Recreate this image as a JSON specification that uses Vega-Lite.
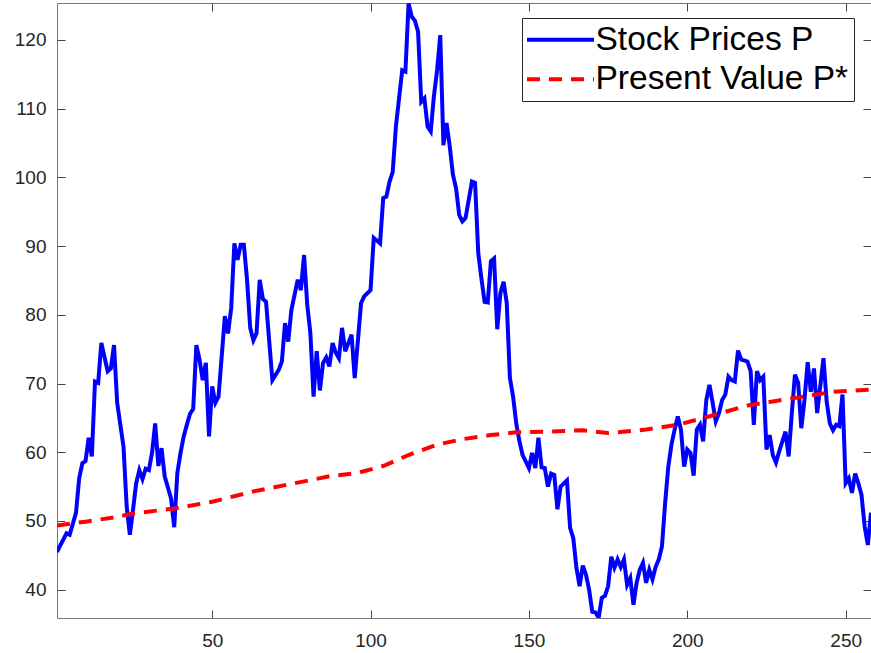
{
  "$schema": "https://vega.github.io/schema/vega-lite/v6.json",
  "width": 814,
  "height": 615,
  "autosize": {"type": "none"},
  "padding": {"left": 57, "top": 3, "right": 0, "bottom": 35},
  "background": "white",
  "datasets": {
    "stock": [
      {"t":1,"v":45.5},{"t":4,"v":48.2},{"t":5,"v":48.0},{"t":7,"v":51.2},{"t":8,"v":56.2},{"t":9,"v":58.4},{"t":10,"v":58.7},{"t":11,"v":62.1},{"t":12,"v":59.4},{"t":13,"v":70.3},{"t":14,"v":70.1},{"t":15,"v":75.9},{"t":17,"v":71.8},{"t":18,"v":72.2},{"t":19,"v":75.6},{"t":20,"v":67.2},{"t":22,"v":60.8},{"t":23,"v":52.1},{"t":24,"v":48.0},{"t":25,"v":51.6},{"t":26,"v":55.5},{"t":27,"v":57.4},{"t":28,"v":56.1},{"t":29,"v":57.6},{"t":30,"v":57.4},{"t":31,"v":59.9},{"t":32,"v":64.2},{"t":33,"v":58.0},{"t":34,"v":60.6},{"t":35,"v":56.5},{"t":37,"v":53.3},{"t":38,"v":49.1},{"t":39,"v":57.0},{"t":40,"v":59.9},{"t":41,"v":62.3},{"t":42,"v":64.0},{"t":43,"v":65.6},{"t":44,"v":66.3},{"t":45,"v":75.6},{"t":46,"v":73.5},{"t":47,"v":70.5},{"t":48,"v":73.0},{"t":49,"v":62.3},{"t":50,"v":69.6},{"t":51,"v":67.2},{"t":52,"v":68.1},{"t":54,"v":79.8},{"t":55,"v":77.3},{"t":56,"v":81.0},{"t":57,"v":90.4},{"t":58,"v":88.0},{"t":59,"v":90.2},{"t":60,"v":90.2},{"t":61,"v":85.1},{"t":62,"v":78.1},{"t":63,"v":76.3},{"t":64,"v":77.3},{"t":65,"v":85.1},{"t":66,"v":82.3},{"t":67,"v":81.9},{"t":69,"v":70.5},{"t":71,"v":72.0},{"t":72,"v":73.2},{"t":73,"v":78.8},{"t":74,"v":76.1},{"t":75,"v":80.7},{"t":77,"v":85.1},{"t":78,"v":83.6},{"t":79,"v":88.7},{"t":80,"v":81.5},{"t":81,"v":77.3},{"t":82,"v":68.1},{"t":83,"v":74.7},{"t":84,"v":69.0},{"t":85,"v":73.0},{"t":86,"v":73.8},{"t":87,"v":72.5},{"t":88,"v":75.9},{"t":89,"v":74.5},{"t":90,"v":73.7},{"t":91,"v":78.1},{"t":92,"v":74.7},{"t":94,"v":77.1},{"t":95,"v":70.8},{"t":97,"v":81.7},{"t":98,"v":82.7},{"t":100,"v":83.6},{"t":101,"v":91.2},{"t":103,"v":90.4},{"t":104,"v":97.0},{"t":105,"v":97.2},{"t":106,"v":99.4},{"t":107,"v":100.8},{"t":108,"v":107.4},{"t":110,"v":115.6},{"t":111,"v":115.4},{"t":112,"v":125.3},{"t":113,"v":123.4},{"t":114,"v":122.8},{"t":115,"v":121.2},{"t":116,"v":111.0},{"t":117,"v":111.5},{"t":118,"v":107.4},{"t":119,"v":106.7},{"t":120,"v":111.8},{"t":121,"v":115.6},{"t":122,"v":120.7},{"t":123,"v":104.7},{"t":124,"v":107.9},{"t":125,"v":104.5},{"t":126,"v":100.4},{"t":127,"v":98.4},{"t":128,"v":94.5},{"t":129,"v":93.6},{"t":130,"v":94.1},{"t":132,"v":99.4},{"t":133,"v":99.2},{"t":134,"v":89.0},{"t":135,"v":85.3},{"t":136,"v":81.9},{"t":137,"v":81.8},{"t":138,"v":87.8},{"t":139,"v":88.2},{"t":140,"v":77.9},{"t":141,"v":83.2},{"t":142,"v":84.8},{"t":143,"v":81.7},{"t":144,"v":70.8},{"t":145,"v":68.1},{"t":146,"v":64.2},{"t":147,"v":61.6},{"t":148,"v":59.6},{"t":150,"v":57.7},{"t":151,"v":59.9},{"t":152,"v":57.7},{"t":153,"v":62.1},{"t":154,"v":57.8},{"t":155,"v":57.7},{"t":156,"v":55.0},{"t":157,"v":56.9},{"t":158,"v":56.7},{"t":159,"v":51.7},{"t":160,"v":55.0},{"t":162,"v":55.9},{"t":163,"v":49.0},{"t":164,"v":47.5},{"t":165,"v":43.2},{"t":166,"v":40.5},{"t":167,"v":43.5},{"t":168,"v":42.2},{"t":169,"v":40.0},{"t":170,"v":36.8},{"t":171,"v":36.7},{"t":172,"v":35.9},{"t":173,"v":38.8},{"t":174,"v":39.1},{"t":175,"v":40.5},{"t":176,"v":44.8},{"t":177,"v":43.2},{"t":178,"v":44.4},{"t":179,"v":43.3},{"t":180,"v":44.4},{"t":181,"v":40.7},{"t":182,"v":41.7},{"t":183,"v":37.8},{"t":184,"v":41.0},{"t":185,"v":42.9},{"t":186,"v":43.9},{"t":187,"v":41.0},{"t":188,"v":42.9},{"t":189,"v":41.5},{"t":190,"v":43.3},{"t":191,"v":44.4},{"t":192,"v":46.3},{"t":193,"v":52.6},{"t":194,"v":57.9},{"t":195,"v":61.1},{"t":196,"v":63.3},{"t":197,"v":65.2},{"t":198,"v":63.3},{"t":199,"v":57.9},{"t":200,"v":60.4},{"t":201,"v":59.9},{"t":202,"v":56.6},{"t":203,"v":63.3},{"t":204,"v":64.0},{"t":205,"v":61.6},{"t":206,"v":67.6},{"t":207,"v":69.8},{"t":208,"v":67.2},{"t":209,"v":64.5},{"t":210,"v":65.7},{"t":211,"v":67.6},{"t":212,"v":68.4},{"t":213,"v":71.0},{"t":214,"v":70.5},{"t":215,"v":70.3},{"t":216,"v":74.8},{"t":217,"v":73.5},{"t":219,"v":73.2},{"t":220,"v":71.8},{"t":221,"v":64.0},{"t":222,"v":71.8},{"t":223,"v":70.5},{"t":224,"v":71.0},{"t":225,"v":60.4},{"t":226,"v":62.5},{"t":227,"v":59.6},{"t":228,"v":58.5},{"t":229,"v":60.1},{"t":231,"v":63.0},{"t":232,"v":59.4},{"t":233,"v":65.7},{"t":234,"v":71.3},{"t":235,"v":70.1},{"t":236,"v":63.5},{"t":237,"v":67.6},{"t":238,"v":73.1},{"t":239,"v":68.8},{"t":240,"v":72.2},{"t":241,"v":65.7},{"t":243,"v":73.7},{"t":244,"v":67.4},{"t":245,"v":64.2},{"t":246,"v":63.2},{"t":247,"v":64.0},{"t":248,"v":63.8},{"t":249,"v":68.4},{"t":250,"v":55.5},{"t":251,"v":56.2},{"t":252,"v":54.1},{"t":253,"v":56.9},{"t":254,"v":55.5},{"t":255,"v":53.8},{"t":256,"v":49.2},{"t":257,"v":46.5},{"t":258,"v":51.2}
    ],
    "pv": [
      {"t":1,"v":49.35},{"t":10,"v":49.9},{"t":20,"v":50.6},{"t":25,"v":51.1},{"t":38,"v":51.8},{"t":50,"v":52.8},{"t":63,"v":54.3},{"t":75,"v":55.4},{"t":87,"v":56.5},{"t":96,"v":57.0},{"t":104,"v":58.0},{"t":112,"v":59.6},{"t":121,"v":61.1},{"t":129,"v":61.9},{"t":138,"v":62.5},{"t":146,"v":62.9},{"t":155,"v":63.0},{"t":167,"v":63.2},{"t":175,"v":62.8},{"t":187,"v":63.3},{"t":197,"v":64.0},{"t":206,"v":65.1},{"t":219,"v":66.8},{"t":227,"v":67.4},{"t":238,"v":68.2},{"t":246,"v":68.8},{"t":258,"v":69.1}
    ]
  },
  "layer": [
    {
      "data": {"name": "stock"},
      "mark": {"type": "line", "strokeWidth": 4, "clip": true},
      "encoding": {
        "x": {"field": "t", "type": "quantitative",
          "scale": {"domain": [1, 258], "nice": false, "zero": false},
          "axis": {"orient": "bottom", "values": [50, 100, 150, 200, 250], "title": null, "labelPadding": 21}},
        "y": {"field": "v", "type": "quantitative",
          "scale": {"domain": [35.88, 125.38], "nice": false, "zero": false},
          "axis": {"orient": "left", "values": [40, 50, 60, 70, 80, 90, 100, 110, 120], "title": null, "labelPadding": 19}},
        "color": {"datum": "Stock Prices P", "type": "nominal",
          "scale": {"domain": ["Stock Prices P", "Present Value P*"], "range": ["#0000ff", "#ff0000"]},
          "legend": {"orient": "none", "legendX": 465, "legendY": 15, "title": null}},
        "strokeDash": {"datum": "Stock Prices P", "type": "nominal",
          "scale": {"domain": ["Stock Prices P", "Present Value P*"], "range": [[1, 0], [13, 9]]},
          "legend": {"orient": "none", "legendX": 465, "legendY": 15, "title": null}}
      }
    },
    {
      "data": {"name": "pv"},
      "mark": {"type": "line", "strokeWidth": 4, "clip": true},
      "encoding": {
        "x": {"field": "t", "type": "quantitative", "axis": null},
        "y": {"field": "v", "type": "quantitative", "axis": null},
        "color": {"datum": "Present Value P*", "type": "nominal"},
        "strokeDash": {"datum": "Present Value P*", "type": "nominal"}
      }
    },
    {
      "data": {"name": "pv"},
      "mark": {"type": "point", "opacity": 0},
      "encoding": {
        "x": {"field": "t", "type": "quantitative",
          "axis": {"orient": "top", "values": [50, 100, 150, 200, 250], "labels": false, "title": null}},
        "y": {"field": "v", "type": "quantitative",
          "axis": {"orient": "right", "values": [40, 50, 60, 70, 80, 90, 100, 110, 120], "labels": false, "title": null}}
      }
    }
  ],
  "resolve": {"axis": {"x": "independent", "y": "independent"}},
  "config": {
    "view": {"stroke": "#777777", "strokeWidth": 1},
    "axis": {
      "domain": false,
      "grid": false,
      "tickSize": -8,
      "tickColor": "#444444",
      "tickWidth": 1,
      "labelFont": "Liberation Sans",
      "labelFontSize": 19,
      "labelColor": "#262626"
    },
    "legend": {
      "strokeColor": "#262626",
      "fillColor": "#ffffff",
      "padding": 5,
      "labelFont": "Liberation Sans",
      "labelFontSize": 33.5,
      "labelColor": "#000000",
      "labelLimit": 500,
      "labelOffset": 35,
      "symbolType": "M-2,0H6",
      "symbolSize": 280.6,
      "symbolStrokeWidth": 4,
      "rowPadding": 4.5
    }
  }
}
